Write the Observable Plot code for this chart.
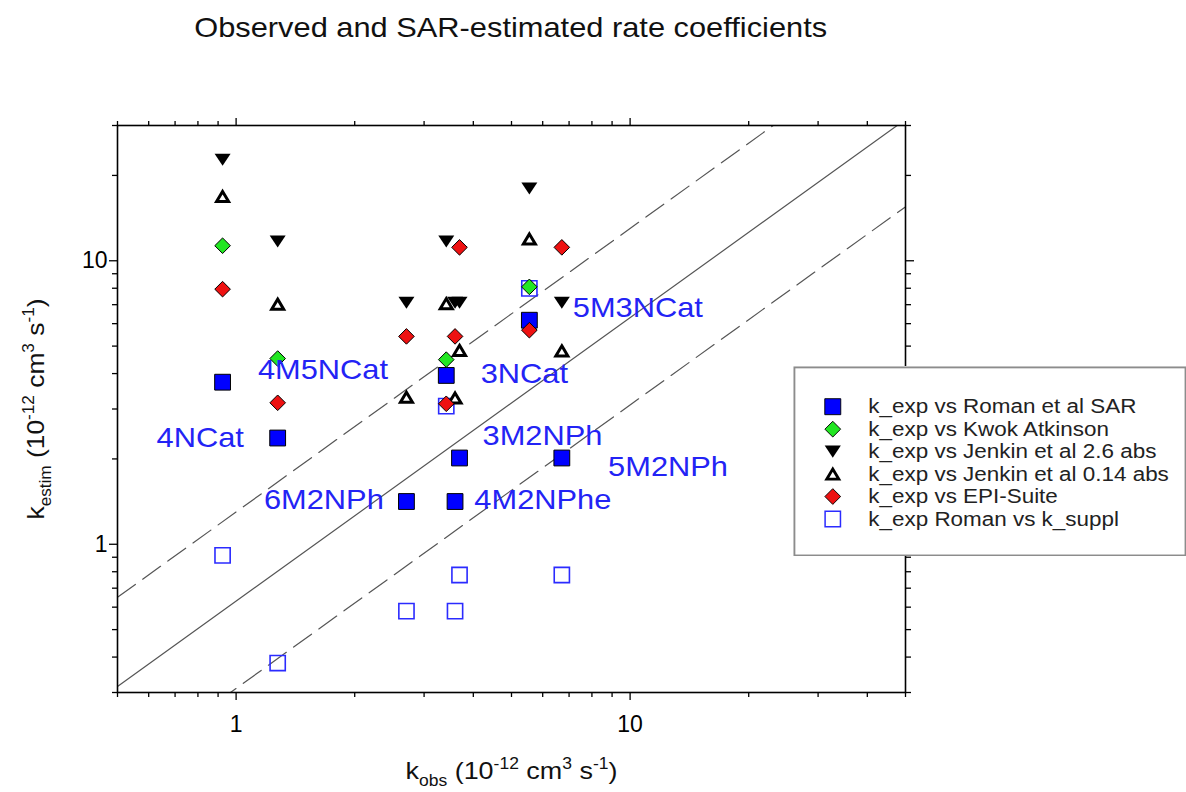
<!DOCTYPE html>
<html><head><meta charset="utf-8">
<script src="https://cdn.jsdelivr.net/npm/d3@7"></script>
<script src="https://cdn.jsdelivr.net/npm/@observablehq/plot@0.6"></script>
<style>
body{margin:0;background:#fff;overflow:hidden;font-family:"Liberation Sans",Arial,sans-serif;}
#wrap{position:relative;width:1186px;height:792px;overflow:hidden;background:#fff;}
#title{position:absolute;left:0;top:0;width:1022px;height:56px;line-height:56px;text-align:center;font-size:28px;color:#111;}
#title span{display:inline-block;transform:scaleX(1.1);}
#chart{position:absolute;left:0;top:56px;}
#legend{position:absolute;left:793px;top:366px;}
</style></head>
<body>
<div id="wrap">
  <div id="title"><span>Observed and SAR-estimated rate coefficients</span></div>
  <div id="chart"></div>
  <div id="legend"></div>
</div>
<script>
// ---------- data ----------
const kObs      = [0.924, 1.275, 2.706, 3.415, 3.595, 3.69, 5.55, 6.71];
const romanSAR  = [3.73, 2.37, 1.415, 3.94, 1.415, 2.015, 6.17, 2.015];
const kwokAtk   = [11.3, 4.52, null, 4.48, null, null, 8.09, null];
const jenkin26  = [22.7, 11.7, 7.11, 11.7, 7.11, 7.11, 18.0, 7.11];
const jenkin014 = [16.85, 7.03, 3.30, 7.06, 3.28, 4.83, 11.94, 4.81];
const epiSuite  = [7.94, 3.155, 5.41, 3.13, 5.41, 11.15, 5.69, 11.15];
const kSuppl    = [0.914, 0.381, 0.581, 3.07, 0.581, 0.779, 7.99, 0.779];

const seriesNames = [
  "k_exp vs Roman et al SAR",
  "k_exp vs Kwok Atkinson",
  "k_exp vs Jenkin et al 2.6 abs",
  "k_exp vs Jenkin et al 0.14 abs",
  "k_exp vs EPI-Suite",
  "k_exp Roman vs k_suppl"
];
const seriesValues = [romanSAR, kwokAtk, jenkin26, jenkin014, epiSuite, kSuppl];

const labelNames = ["4NCat","4M5NCat","3NCat","5M3NCat","3M2NPh","5M2NPh","6M2NPh","4M2NPhe"];
const labelX     = [0.811, 1.661, 5.39, 10.46, 5.99, 12.48, 1.67, 6.004];
const labelY     = [2.378, 4.105, 4.0, 6.785, 2.416, 1.865, 1.435, 1.435];

const refFactors = [0.63, 1.3, 0.31];
const xDomain = [0.5, 50];
const yDomain = [0.3, 30];
const xMajor = [1, 10];
const xMinor = [0.5,0.6,0.7,0.8,0.9,2,3,4,5,6,7,8,9,20,30,40,50];
const yMajor = [1, 10];
const yMinor = [0.3,0.4,0.5,0.6,0.7,0.8,0.9,2,3,4,5,6,7,8,9,20,30];

// ---------- symbols & styles ----------
const mk = pts => ({draw(ctx, size){
  const r = Math.sqrt(size/Math.PI);
  ctx.moveTo(pts[0][0]*r, pts[0][1]*r);
  for (let i=1;i<pts.length;i++) ctx.lineTo(pts[i][0]*r, pts[i][1]*r);
  ctx.closePath();
}});
const symSquare = mk([[-1,-1],[1,-1],[1,1],[-1,1]]);
const symDiamond = mk([[0,-1],[1,0],[0,1],[-1,0]]);
const symTriDown = mk([[-1,-0.75],[1,-0.75],[0,0.75]]);
const symTriUp = mk([[0,-0.84],[1,0.84],[-1,0.84]]);

const styles = [
  {symbol: symSquare,  r: 7.9, fill: "#0000ff", stroke: "#000", strokeWidth: 1},
  {symbol: symDiamond, r: 7.8, fill: "#22e622", stroke: "#000", strokeWidth: 1},
  {symbol: symTriDown, r: 8,   fill: "#000",    stroke: "none"},
  {symbol: symTriUp,   r: 6.0, fill: "#fff",    stroke: "#000", strokeWidth: 3, strokeLinejoin: "miter"},
  {symbol: symDiamond, r: 7.8, fill: "#ee1111", stroke: "#000", strokeWidth: 1},
  {symbol: symSquare,  r: 7.6, fill: "none",    stroke: "#2b2bff", strokeWidth: 1.6}
];
const drawOrder = [5, 0, 1, 2, 3, 4];

const rows = seriesNames.map((s, j) =>
  kObs.map((x, i) => ({series: s, x, y: seriesValues[j][i]})).filter(d => d.y != null));
const labels = labelNames.map((n, i) => ({name: n, x: labelX[i], y: labelY[i]}));

// ---------- rich text helper ----------
const SVGNS = "http://www.w3.org/2000/svg";
function rich(el, parts, fs, len) {
  el.textContent = "";
  let shift = 0;
  for (const [t, kind] of parts) {
    const ts = document.createElementNS(SVGNS, "tspan");
    const target = kind === "sup" ? -0.42*fs : kind === "sub" ? 0.3*fs : 0;
    ts.setAttribute("dy", target - shift);
    shift = target;
    if (kind) ts.setAttribute("font-size", 0.65*fs);
    ts.textContent = t;
    el.appendChild(ts);
  }
  if (len) { el.setAttribute("textLength", len); el.setAttribute("lengthAdjust", "spacingAndGlyphs"); }
}
const xTitleParts = [["k"],["obs","sub"],[" (10"],["-12","sup"],[" cm"],["3","sup"],[" s"],["-1","sup"],[")"]];
const yTitleParts = [["k"],["estim","sub"],[" (10"],["-12","sup"],[" cm"],["3","sup"],[" s"],["-1","sup"],[")"]];
const richRender = (parts, fs, len) => (index, scales, values, dims, ctx, next) => {
  const g = next(index, scales, values, dims, ctx);
  d3.select(g).selectAll("text").each(function(){ rich(this, parts, fs, len); });
  return g;
};
function stretch(svg, selector, factor) {
  d3.select(svg).selectAll(selector).each(function(){
    const L = this.getComputedTextLength();
    this.setAttribute("textLength", L*factor);
    this.setAttribute("lengthAdjust", "spacingAndGlyphs");
  });
}

const blank = () => "";
const lineColor = "#555";

const chart = Plot.plot({
  width: 1186, height: 736,
  marginLeft: 117, marginRight: 281, marginTop: 69, marginBottom: 100,
  style: {fontFamily: "'Liberation Sans', Arial, sans-serif", color: "#000", background: "transparent"},
  x: {type: "log", domain: xDomain, label: null},
  y: {type: "log", domain: yDomain, label: null},
  marks: [
    ...refFactors.map((k, i) => Plot.line(xDomain, {
      x: d => d, y: d => k*d, stroke: lineColor, strokeWidth: 1.2, clip: "frame",
      strokeDasharray: i === 0 ? null : "22,9"
    })),
    Plot.axisX({anchor: "bottom", ticks: xMajor, tickSize: 8, tickPadding: 15, tickFormat: d => String(d), fontSize: 23, strokeWidth: 1.3, label: null}),
    Plot.axisX({anchor: "bottom", ticks: xMinor, tickSize: 5, tickFormat: blank, strokeWidth: 1.3, label: null}),
    Plot.axisX({anchor: "top", ticks: xMajor, tickSize: 8, tickFormat: blank, strokeWidth: 1.3, label: null}),
    Plot.axisX({anchor: "top", ticks: xMinor, tickSize: 5, tickFormat: blank, strokeWidth: 1.3, label: null}),
    Plot.axisY({anchor: "left", ticks: yMajor, tickSize: 8, tickPadding: 2, tickFormat: d => String(d), fontSize: 23, strokeWidth: 1.3, label: null}),
    Plot.axisY({anchor: "left", ticks: yMinor, tickSize: 5, tickFormat: blank, strokeWidth: 1.3, label: null}),
    Plot.axisY({anchor: "right", ticks: yMajor, tickSize: 8, tickFormat: blank, strokeWidth: 1.3, label: null}),
    Plot.axisY({anchor: "right", ticks: yMinor, tickSize: 5, tickFormat: blank, strokeWidth: 1.3, label: null}),
    Plot.frame({stroke: "#000", strokeWidth: 1.6}),
    ...drawOrder.map(j => Plot.dot(rows[j], {x: "x", y: "y", ...styles[j]})),
    Plot.text(labels, {x: "x", y: "y", text: "name", fill: "#2323f5", fontSize: 28, className: "cmp-lbl"}),
    Plot.text([0], {frameAnchor: "bottom", lineAnchor: "middle", textAnchor: "middle", dy: 79, text: () => "x", fontSize: 24, fill: "#111",
      render: richRender(xTitleParts, 24, 212)}),
    Plot.text([0], {frameAnchor: "left", lineAnchor: "middle", textAnchor: "middle", dx: -81, rotate: -90, text: () => "y", fontSize: 24, fill: "#111",
      render: richRender(yTitleParts, 24, 221)})
  ]
});
document.getElementById("chart").appendChild(chart);
stretch(chart, "g.cmp-lbl text", 1.1);

// ---------- legend ----------
const legend = Plot.plot({
  width: 420, height: 203, margin: 1,
  style: {fontFamily: "'Liberation Sans', Arial, sans-serif", background: "#fff"},
  y: {type: "point", domain: seriesNames, range: [30.7, 175], axis: null},
  marks: [
    Plot.frame({fill: "#fff", stroke: "#8c8c8c", strokeWidth: 2}),
    ...seriesNames.map((s, j) => Plot.dot([s], {y: d => d, frameAnchor: "left", dx: 41, ...styles[j], r: styles[j].r * 1.08})),
    Plot.text(seriesNames, {y: d => d, frameAnchor: "left", dx: 79, text: d => d, textAnchor: "start", fontSize: 22, fill: "#222", className: "leg-lbl"})
  ]
});
document.getElementById("legend").appendChild(legend);
stretch(legend, "g.leg-lbl text", 1.09);
</script>
</body></html>
